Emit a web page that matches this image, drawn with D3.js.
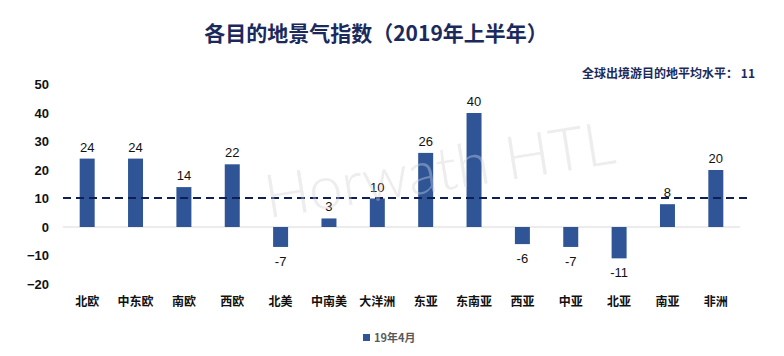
<!DOCTYPE html>
<html><head><meta charset="utf-8">
<script src="https://cdn.jsdelivr.net/npm/d3@7"></script>
<style>body{margin:0;background:#fff}svg{display:block}</style>
</head><body>
<svg id="c" width="784" height="356"></svg>
<script>
const categories = ["北欧","中东欧","南欧","西欧","北美","中南美","大洋洲","东亚","东南亚","西亚","中亚","北亚","南亚","非洲"];
const values = [24,24,14,22,-7,3,10,26,40,-6,-7,-11,8,20];
const yTicks = [-20,-10,0,10,20,30,40,50];
const avgLine = 10.2;
const avgLabel = "全球出境游目的地平均水平： 11";
const title = "各目的地景气指数（2019年上半年）";
const seriesName = "19年4月";
const watermark = "Horwath HTL";

const svg = d3.select("#c");
const cjk = "'Noto Sans CJK SC','Liberation Sans',sans-serif";
const x = d3.scaleBand().domain(categories).range([63,740]);
const y = d3.scaleLinear().domain([-20,50]).range([284,84.5]);
const barW = x.bandwidth()*0.31;
const navy = "#1b2a5c";
const barColor = "#2f5597";

svg.append("text").attr("x",376).attr("y",41).attr("text-anchor","middle")
  .attr("font-family",cjk).attr("font-weight","bold").attr("font-size",21)
  .attr("fill",navy).text(title);
svg.append("text").attr("x",755).attr("y",78).attr("text-anchor","end")
  .attr("font-family",cjk).attr("font-weight","bold").attr("font-size",12)
  .attr("fill",navy).text(avgLabel);

// watermark (behind)
const wm = (g, fill, op) => g.append("text").attr("transform","translate(268,218) rotate(-9)")
  .attr("font-family","Lato,'Open Sans',sans-serif").attr("font-weight",300)
  .attr("font-size",60).attr("fill",fill).attr("opacity",op).text(watermark);
wm(svg, "#e6e6e6", 1);

// y axis labels
const yAxis = d3.axisLeft(y).tickValues(yTicks).tickSize(0).tickPadding(0);
const ya = svg.append("g").attr("transform","translate(49,0)").call(yAxis);
ya.select(".domain").remove();
ya.selectAll("text").attr("font-family","'Liberation Sans',sans-serif").attr("font-weight","bold")
  .attr("font-size",13).attr("fill","#111");

// zero line
svg.append("line").attr("x1",x.range()[0]).attr("x2",x.range()[1])
  .attr("y1",y(0)).attr("y2",y(0)).attr("stroke","#d9d9d9").attr("stroke-width",1.2);

// bars
svg.append("g").selectAll("rect").data(values).join("rect")
  .attr("x",(d,i)=>x(categories[i])+x.bandwidth()/2-barW/2)
  .attr("width",barW)
  .attr("y",d=>y(Math.max(0,d)))
  .attr("height",d=>Math.abs(y(d)-y(0)))
  .attr("fill",barColor);

// data labels
svg.append("g").selectAll("text").data(values).join("text")
  .attr("x",(d,i)=>x(categories[i])+x.bandwidth()/2)
  .attr("y",d=> d>=0 ? y(d)-7 : y(d)+19)
  .attr("text-anchor","middle")
  .attr("font-family","'Liberation Sans',sans-serif").attr("font-size",13).attr("fill","#111")
  .text(d=>d);

// average dashed line
svg.append("line").attr("x1",63).attr("x2",750).attr("y1",y(avgLine)).attr("y2",y(avgLine))
  .attr("stroke","#0e1f56").attr("stroke-width",2).attr("stroke-dasharray","8,5");

// watermark overlay on bars
wm(svg, "#ffffff", 0.3);

// x labels
const xAxis = d3.axisBottom(x).tickSize(0).tickPadding(0);
const xa = svg.append("g").attr("transform","translate(0,297)").call(xAxis);
xa.select(".domain").remove();
xa.selectAll("text").attr("font-family",cjk).attr("font-weight","bold")
  .attr("font-size",12).attr("fill","#111");

// legend
svg.append("rect").attr("x",363).attr("y",334).attr("width",7).attr("height",7).attr("fill",barColor);
svg.append("text").attr("x",374).attr("y",341.5)
  .attr("font-family",cjk).attr("font-weight","bold").attr("font-size",11)
  .attr("fill","#595959").text(seriesName);
</script>
</body></html>
